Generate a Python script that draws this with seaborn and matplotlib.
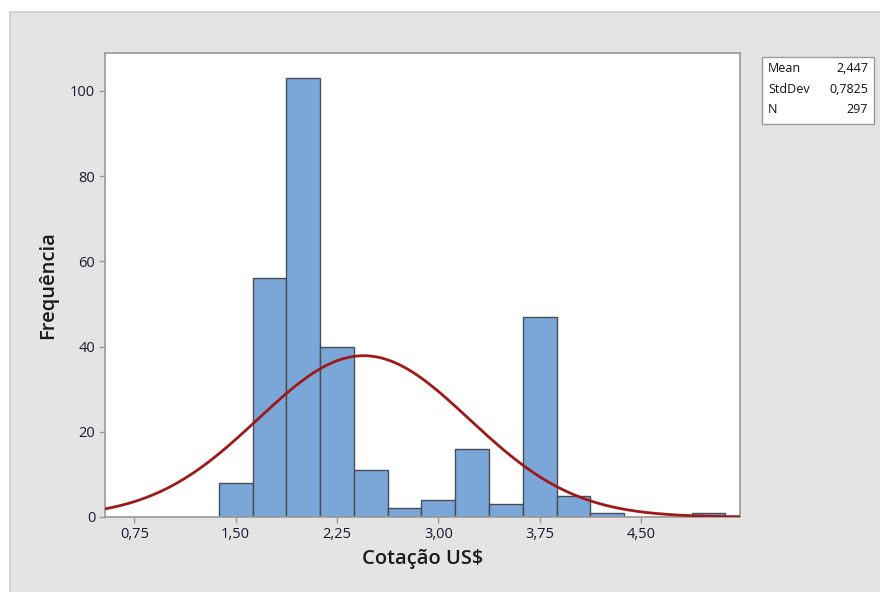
#!/usr/bin/env python3
"""Histogram of Cotação US$ with fitted normal curve (Minitab look)."""

import numpy as np
import pandas as pd
import matplotlib
matplotlib.use("Agg")
import matplotlib.pyplot as plt
import seaborn as sns
from matplotlib.patches import Rectangle

# bin edges (width 0.25, midpoints 1.50, 1.75, ...) and counts
bin_edges = [1.375, 1.625, 1.875, 2.125, 2.375, 2.625, 2.875, 3.125, 3.375,
             3.625, 3.875, 4.125, 4.375, 4.625, 4.875, 5.125]
bin_counts = [8, 56, 103, 40, 11, 2, 4, 16, 3, 47, 5, 1, 0, 0, 1]

# summary stats shown in the box
mean_val = 2.447
std_val = 0.7825
n_obs = 297

x_ticks = [0.75, 1.50, 2.25, 3.00, 3.75, 4.50]
x_tick_labels = ["0,75", "1,50", "2,25", "3,00", "3,75", "4,50"]
y_ticks = [0, 20, 40, 60, 80, 100]

BAR_COLOR = "#7ba6d8"
EDGE_COLOR = "#474c55"
CURVE_COLOR = "#9e1a1a"
PANEL_COLOR = "#e4e4e4"


def setup_style():
    sns.set_theme(style="white")
    plt.rcParams["font.family"] = ["Open Sans", "DejaVu Sans"]
    plt.rcParams.update({
        "xtick.major.size": 4,
        "ytick.major.size": 4,
        "xtick.color": "#999999",
        "ytick.color": "#999999",
        "xtick.labelcolor": "#1a1a2e",
        "ytick.labelcolor": "#1a1a2e",
    })


def main():
    setup_style()
    fig = plt.figure(figsize=(8.8, 5.92), dpi=100)
    fig.patch.set_facecolor("white")

    # gray Minitab panel behind the graph
    fig.patches.append(Rectangle((10 / 880, -0.01), 1, 1 - 12 / 592 + 0.01,
                                 transform=fig.transFigure, facecolor=PANEL_COLOR,
                                 edgecolor="#cccccc", linewidth=1.2, zorder=-10))

    ax = fig.add_axes([105 / 880, 1 - 517 / 592, 635 / 880, 464 / 592])
    ax.set_zorder(2)
    ax.set_facecolor("white")

    edges = np.array(bin_edges)
    centers = (edges[:-1] + edges[1:]) / 2
    df = pd.DataFrame({"centro": centers, "contagem": bin_counts})
    df = df[df["contagem"] > 0]

    sns.histplot(data=df, x="centro", weights="contagem", bins=bin_edges,
                 color=BAR_COLOR, edgecolor=EDGE_COLOR, linewidth=1.0,
                 alpha=1, ax=ax, zorder=2)

    # fitted normal curve, scaled to counts per bin
    x_lo, x_hi = 0.533, 5.233
    width = bin_edges[1] - bin_edges[0]
    xs = np.linspace(x_lo, x_hi, 400)
    ys = n_obs * width * np.exp(-0.5 * ((xs - mean_val) / std_val) ** 2) / (std_val * np.sqrt(2 * np.pi))
    sns.lineplot(x=xs, y=ys, color=CURVE_COLOR, linewidth=2.0, ax=ax, zorder=3)

    ax.set_xlim(x_lo, x_hi)
    ax.set_ylim(0, 108.9)
    ax.set_xticks(x_ticks)
    ax.set_xticklabels(x_tick_labels, fontsize=10.5)
    ax.set_yticks(y_ticks)
    ax.set_yticklabels([str(v) for v in y_ticks], fontsize=10.5)
    ax.tick_params(axis="both", direction="out", length=4, width=1, pad=3, bottom=True, left=True)

    for side in ["top", "right", "bottom", "left"]:
        ax.spines[side].set_visible(True)
        ax.spines[side].set_color("#9a9a9a")
        ax.spines[side].set_linewidth(1.2)

    ax.set_xlabel("Cotação US$", fontsize=14.5, color="#1a1a1a", fontweight="semibold", labelpad=5)
    ax.set_ylabel("Frequência", fontsize=14.5, color="#1a1a1a", fontweight="semibold", labelpad=9)

    # stats box
    bx0, by0, bx1, by1 = 762, 57, 874, 124
    fig.patches.append(Rectangle((bx0 / 880, 1 - by1 / 592), (bx1 - bx0) / 880, (by1 - by0) / 592,
                                 transform=fig.transFigure, facecolor="white",
                                 edgecolor="#9a9a9a", linewidth=1.0, zorder=1))
    rows = [("Mean", "2,447"), ("StdDev", "0,7825"), ("N", f"{n_obs}")]
    for i, (k, v) in enumerate(rows):
        y = 1 - (69 + i * 20.5) / 592
        fig.text(768 / 880, y, k, fontsize=9, va="center", ha="left", color="#111111", zorder=3)
        fig.text(868 / 880, y, v, fontsize=9, va="center", ha="right", color="#111111", zorder=3)

    fig.savefig("out.png", dpi=100, facecolor=fig.get_facecolor())
    plt.close(fig)


if __name__ == "__main__":
    main()
